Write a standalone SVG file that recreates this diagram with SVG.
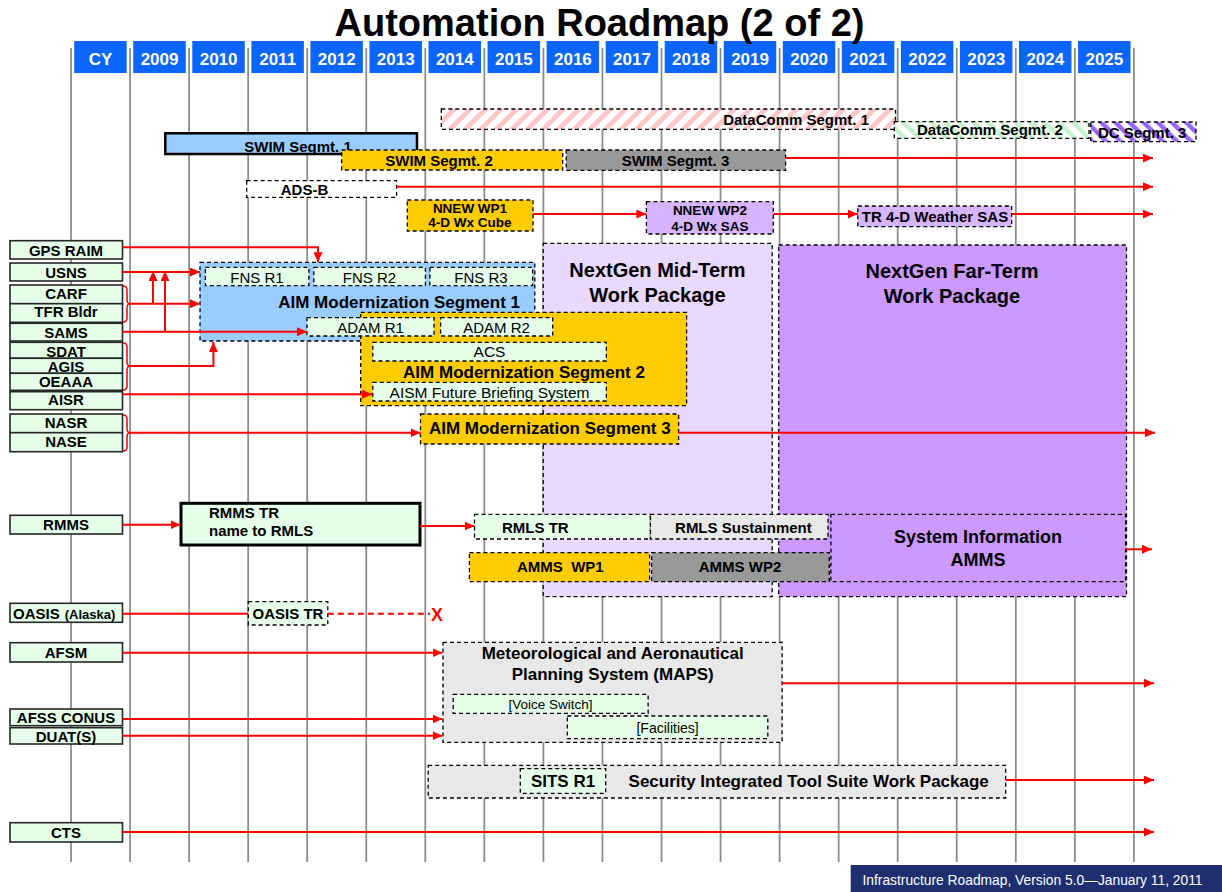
<svg xmlns="http://www.w3.org/2000/svg" width="1222" height="892" viewBox="0 0 1222 892">
<style>
text{font-family:"Liberation Sans",Arial,sans-serif;fill:#000}
.b{font-weight:bold}
.c{text-anchor:middle}
.e{text-anchor:end}
.yr{font-weight:bold;font-size:17px;fill:#fff;text-anchor:middle}
.hd{fill:#0A66FF}
.grid{stroke:#8c8c8c;stroke-width:1.8}
.lbl{fill:#E6FFE9;stroke:#262626;stroke-width:1.6}
.d{stroke:#000;stroke-width:1.3;stroke-dasharray:4 3}
.g{fill:#E6FFE9}
.bl{fill:#99CCFF}
.ye{fill:#FFCC00}
.gr{fill:#999999}
.lg{fill:#E8E8E8}
.pu{fill:#CC99FF}
.lp{fill:#D7B4FF}
.mt{fill:#EAD9FF}
.t15{font-size:15px}
.n15{font-size:15px}
.a{fill:none;stroke:#FF0000;stroke-width:2}
.br{fill:none;stroke:#FF0000;stroke-width:1.5}
</style>
<defs>
<marker id="ah" markerUnits="userSpaceOnUse" markerWidth="11" markerHeight="9" refX="10" refY="4.5" orient="auto">
<path d="M0,0 L10,4.5 L0,9 z" fill="#FF0000"/>
</marker>
<pattern id="hpink" patternUnits="userSpaceOnUse" width="11" height="11" patternTransform="rotate(45)">
<rect width="11" height="11" fill="#fff"/><rect width="5" height="11" fill="#FFC8C8"/>
</pattern>
<pattern id="hgreen" patternUnits="userSpaceOnUse" width="10" height="10" patternTransform="rotate(-45)">
<rect width="10" height="10" fill="#fff"/><rect width="4.5" height="10" fill="#C6F2CC"/>
</pattern>
<pattern id="hpurple" patternUnits="userSpaceOnUse" width="10" height="10" patternTransform="rotate(-45)">
<rect width="10" height="10" fill="#fff"/><rect width="4.5" height="10" fill="#9966FF"/>
</pattern>
</defs>
<rect width="1222" height="892" fill="#fff"/>

<g id="grid">
<line class="grid" x1="71" y1="48" x2="71" y2="862"/>
<line class="grid" x1="130.05" y1="48" x2="130.05" y2="862"/>
<line class="grid" x1="189.1" y1="48" x2="189.1" y2="862"/>
<line class="grid" x1="248.15" y1="48" x2="248.15" y2="862"/>
<line class="grid" x1="307.2" y1="48" x2="307.2" y2="862"/>
<line class="grid" x1="366.25" y1="48" x2="366.25" y2="862"/>
<line class="grid" x1="425.3" y1="48" x2="425.3" y2="862"/>
<line class="grid" x1="484.35" y1="48" x2="484.35" y2="862"/>
<line class="grid" x1="543.4" y1="48" x2="543.4" y2="862"/>
<line class="grid" x1="602.45" y1="48" x2="602.45" y2="862"/>
<line class="grid" x1="661.5" y1="48" x2="661.5" y2="862"/>
<line class="grid" x1="720.55" y1="48" x2="720.55" y2="862"/>
<line class="grid" x1="779.6" y1="48" x2="779.6" y2="862"/>
<line class="grid" x1="838.65" y1="48" x2="838.65" y2="862"/>
<line class="grid" x1="897.7" y1="48" x2="897.7" y2="862"/>
<line class="grid" x1="956.75" y1="48" x2="956.75" y2="862"/>
<line class="grid" x1="1015.8" y1="48" x2="1015.8" y2="862"/>
<line class="grid" x1="1074.85" y1="48" x2="1074.85" y2="862"/>
<line class="grid" x1="1133.9" y1="48" x2="1133.9" y2="862"/>
</g>

<g id="header">
<rect class="hd" x="74.2" y="41" width="52.5" height="32"/><text class="yr" x="100.5" y="64.5">CY</text>
<rect class="hd" x="133.25" y="41" width="52.5" height="32"/><text class="yr" x="159.55" y="64.5">2009</text>
<rect class="hd" x="192.3" y="41" width="52.5" height="32"/><text class="yr" x="218.6" y="64.5">2010</text>
<rect class="hd" x="251.35" y="41" width="52.5" height="32"/><text class="yr" x="277.65" y="64.5">2011</text>
<rect class="hd" x="310.4" y="41" width="52.5" height="32"/><text class="yr" x="336.7" y="64.5">2012</text>
<rect class="hd" x="369.45" y="41" width="52.5" height="32"/><text class="yr" x="395.75" y="64.5">2013</text>
<rect class="hd" x="428.5" y="41" width="52.5" height="32"/><text class="yr" x="454.8" y="64.5">2014</text>
<rect class="hd" x="487.55" y="41" width="52.5" height="32"/><text class="yr" x="513.85" y="64.5">2015</text>
<rect class="hd" x="546.6" y="41" width="52.5" height="32"/><text class="yr" x="572.9" y="64.5">2016</text>
<rect class="hd" x="605.65" y="41" width="52.5" height="32"/><text class="yr" x="631.95" y="64.5">2017</text>
<rect class="hd" x="664.7" y="41" width="52.5" height="32"/><text class="yr" x="691" y="64.5">2018</text>
<rect class="hd" x="723.75" y="41" width="52.5" height="32"/><text class="yr" x="750.05" y="64.5">2019</text>
<rect class="hd" x="782.8" y="41" width="52.5" height="32"/><text class="yr" x="809.1" y="64.5">2020</text>
<rect class="hd" x="841.85" y="41" width="52.5" height="32"/><text class="yr" x="868.15" y="64.5">2021</text>
<rect class="hd" x="900.9" y="41" width="52.5" height="32"/><text class="yr" x="927.2" y="64.5">2022</text>
<rect class="hd" x="959.95" y="41" width="52.5" height="32"/><text class="yr" x="986.25" y="64.5">2023</text>
<rect class="hd" x="1019" y="41" width="52.5" height="32"/><text class="yr" x="1045.3" y="64.5">2024</text>
<rect class="hd" x="1078.05" y="41" width="52.5" height="32"/><text class="yr" x="1104.35" y="64.5">2025</text>
</g>

<text id="title" class="b c" x="599.5" y="36" font-size="38">Automation Roadmap (2 of 2)</text>

<g id="datacomm1"><rect class="d" x="441.3" y="109" width="454.2" height="20.3" fill="url(#hpink)"/><text class="b e t15" x="869" y="124.5">DataComm Segmt. 1</text></g>
<g id="datacomm2"><rect class="d" x="894.3" y="121.7" width="194.7" height="16.6" fill="url(#hgreen)"/><text class="b t15" x="917" y="135">DataComm Segmt. 2</text></g>
<g id="dc3"><rect class="d" x="1090.7" y="122" width="105.3" height="19.7" fill="url(#hpurple)"/><text class="b t15" x="1098" y="137.5">DC Segmt. 3</text></g>

<g id="swim1"><rect class="bl" x="165.3" y="133.3" width="251.7" height="20.7" stroke="#000" stroke-width="2.5"/><text class="b c t15" x="298" y="151.5">SWIM Segmt. 1</text></g>
<g id="swim2"><rect class="d ye" x="341.6" y="150" width="221.1" height="20"/><text class="b c t15" x="439" y="165.5">SWIM Segmt. 2</text></g>
<g id="swim3"><rect class="d gr" x="566.2" y="150" width="219.4" height="20.4"/><text class="b c t15" x="675.5" y="165.5">SWIM Segmt. 3</text></g>
<g id="adsb"><rect class="d" fill="#fff" x="246.7" y="180.7" width="149.9" height="16.6"/><text class="b c t15" x="304.5" y="194.5">ADS-B</text></g>
<g id="nnew1"><rect class="d ye" x="407.3" y="200" width="125.7" height="31"/><text class="b c" font-size="13.5" x="470" y="213">NNEW WP1</text><text class="b c" font-size="13.5" x="470" y="226.5">4-D Wx Cube</text></g>
<g id="nnew2"><rect class="d lp" x="646.4" y="201.7" width="126.9" height="32.3"/><text class="b c" font-size="13.5" x="710" y="215">NNEW WP2</text><text class="b c" font-size="13.5" x="710" y="230.5">4-D Wx SAS</text></g>
<g id="tr4d"><rect class="d lp" x="857.8" y="206" width="153.9" height="20.7"/><text class="b c t15" x="935" y="222">TR 4-D Weather SAS</text></g>

<g id="midterm"><rect class="d mt" x="543.2" y="243.3" width="229" height="353.4"/><text class="b c" font-size="20" x="657.5" y="276.5">NextGen Mid-Term</text><text class="b c" font-size="20" x="657.5" y="301.5">Work Package</text></g>
<g id="farterm"><rect class="d pu" x="778.7" y="245" width="347.8" height="351.7"/><text class="b c" font-size="20" x="952" y="278">NextGen Far-Term</text><text class="b c" font-size="20" x="952" y="303">Work Package</text></g>

<g id="aim1"><rect class="d bl" x="200" y="262.3" width="334.8" height="78.7"/><text class="b e" font-size="17" x="520" y="307.5">AIM Modernization Segment 1</text></g>
<g id="fnsr1"><rect class="d g" x="205.4" y="267.3" width="103.5" height="18.4"/><text class="c n15" x="257" y="282.5">FNS R1</text></g>
<g id="fnsr2"><rect class="d g" x="313.8" y="267.3" width="111.6" height="18.4"/><text class="c n15" x="369.5" y="282.5">FNS R2</text></g>
<g id="fnsr3"><rect class="d g" x="429.9" y="267.3" width="102.7" height="18.4"/><text class="c n15" x="481" y="282.5">FNS R3</text></g>
<g id="aim2"><rect class="d ye" x="360.7" y="312.3" width="325.9" height="93.4"/><text class="b c" font-size="17" x="524" y="377.5">AIM Modernization Segment 2</text></g>
<g id="adamr1"><rect class="d g" x="307" y="317.7" width="127" height="18.3"/><text class="c n15" x="370.5" y="332.5">ADAM R1</text></g>
<g id="adamr2"><rect class="d g" x="440.6" y="317.7" width="112.1" height="18.3"/><text class="c n15" x="496.5" y="332.5">ADAM R2</text></g>
<g id="acs"><rect class="d g" x="372.8" y="342.3" width="233.5" height="18.7"/><text class="c" font-size="15.5" x="489.5" y="357">ACS</text></g>
<g id="aism"><rect class="d g" x="372.8" y="382.3" width="233.5" height="18.7"/><text class="c" font-size="15.5" x="489.5" y="397.5">AISM Future Briefing System</text></g>
<g id="aim3"><rect class="d ye" x="420.5" y="414" width="258.1" height="30"/><text class="b c" font-size="17" x="549.8" y="434">AIM Modernization Segment 3</text></g>

<g id="rmmstr"><rect class="g" x="181" y="503.3" width="239" height="41.7" stroke="#000" stroke-width="3"/><text class="b t15" x="209" y="518">RMMS TR</text><text class="b t15" x="209" y="536">name to RMLS</text></g>
<g id="rmlstr"><rect class="d g" x="474.5" y="514.3" width="175.9" height="24.7"/><text class="b t15" x="502" y="532.5">RMLS TR</text></g>
<g id="rmlssus"><rect class="d lg" x="650.4" y="514.3" width="177.6" height="24.7"/><text class="b c t15" x="743.4" y="532.5">RMLS Sustainment</text></g>
<g id="sysinfo"><rect class="d pu" x="830.9" y="514.3" width="294.7" height="67.4"/><text class="b c" font-size="18" x="978" y="543.3">System Information</text><text class="b c" font-size="18" x="978" y="566">AMMS</text></g>
<g id="ammswp1"><rect class="d ye" x="469.4" y="552.7" width="180.2" height="29"/><text class="b t15" x="517" y="571.5" xml:space="preserve">AMMS  WP1</text></g>
<g id="ammswp2"><rect class="d gr" x="651.6" y="552.7" width="177.7" height="29"/><text class="b c t15" x="740" y="571.5">AMMS WP2</text></g>

<g id="oasistr"><rect class="d g" x="248.3" y="601.7" width="79.5" height="23.3"/><text class="b c t15" x="288" y="619">OASIS TR</text></g>
<g id="maps"><rect class="d lg" x="443" y="642.3" width="339.1" height="100"/><text class="b c" font-size="17" x="612.7" y="659.3">Meteorological and Aeronautical</text><text class="b c" font-size="17" x="612.7" y="680">Planning System (MAPS)</text></g>
<g id="voice"><rect class="d g" x="453.2" y="694.3" width="194.9" height="19"/><text class="c" font-size="13.5" x="550.4" y="709">[Voice Switch]</text></g>
<g id="facilities"><rect class="d g" x="567.3" y="716" width="200.5" height="22.7"/><text class="c" font-size="14" x="667.6" y="733.3">[Facilities]</text></g>
<g id="sits"><rect class="d lg" x="428.2" y="765.3" width="577.5" height="32.7"/><text class="b c" font-size="17" x="808.7" y="786.7">Security Integrated Tool Suite Work Package</text></g>
<g id="sitsr1"><rect class="d g" x="520.3" y="768.7" width="85.4" height="24.6"/><text class="b c" font-size="17" x="563" y="786.7">SITS R1</text></g>

<g id="gpsraim"><rect class="lbl" x="10" y="240.7" width="112.5" height="18.3"/><text class="b c t15" x="66" y="255.5">GPS RAIM</text></g>
<g id="usns"><rect class="lbl" x="10" y="263" width="112.5" height="18"/><text class="b c t15" x="66" y="278">USNS</text></g>
<g id="carf"><rect class="lbl" x="10" y="285" width="112.5" height="18.7"/><text class="b c t15" x="66" y="299.3">CARF</text></g>
<g id="tfrbldr"><rect class="lbl" x="10" y="303.7" width="112.5" height="18.6"/><text class="b c t15" x="66" y="317.3">TFR Bldr</text></g>
<g id="sams"><rect class="lbl" x="10" y="323.3" width="112.5" height="17.7"/><text class="b c t15" x="66" y="337.7">SAMS</text></g>
<g id="sdat"><rect class="lbl" x="10" y="342.3" width="112.5" height="16"/><text class="b c t15" x="66" y="356.7">SDAT</text></g>
<g id="agis"><rect class="lbl" x="10" y="358.3" width="112.5" height="15"/><text class="b c t15" x="66" y="371.7">AGIS</text></g>
<g id="oeaaa"><rect class="lbl" x="10" y="373.3" width="112.5" height="17"/><text class="b c t15" x="66" y="386.7">OEAAA</text></g>
<g id="aisr"><rect class="lbl" x="10" y="391.7" width="112.5" height="18"/><text class="b c t15" x="66" y="405">AISR</text></g>
<g id="nasr"><rect class="lbl" x="10" y="414" width="112.5" height="18.7"/><text class="b c t15" x="66" y="428.3">NASR</text></g>
<g id="nase"><rect class="lbl" x="10" y="432.7" width="112.5" height="19"/><text class="b c t15" x="66" y="447.3">NASE</text></g>
<g id="rmms"><rect class="lbl" x="10" y="515.3" width="112.5" height="18.7"/><text class="b c t15" x="66" y="530">RMMS</text></g>
<g id="oasis"><rect class="lbl" x="10" y="603.3" width="112.5" height="19"/><text class="b t15" x="13" y="619">OASIS<tspan font-size="13" dx="5">(Alaska)</tspan></text></g>
<g id="afsm"><rect class="lbl" x="10" y="642.7" width="112.5" height="19.3"/><text class="b c t15" x="66" y="658.3">AFSM</text></g>
<g id="afssconus"><rect class="lbl" x="10" y="709" width="112.5" height="16.7"/><text class="b c t15" x="66" y="723">AFSS CONUS</text></g>
<g id="duats"><rect class="lbl" x="10" y="727.7" width="112.5" height="16.3"/><text class="b c t15" x="66" y="741.5">DUAT(S)</text></g>
<g id="cts"><rect class="lbl" x="10" y="822.7" width="112.5" height="19.3"/><text class="b c t15" x="66" y="838.3">CTS</text></g>

<g id="connectors">
<path class="a" d="M785.6,158 H1153" marker-end="url(#ah)"/>
<path class="a" d="M396.6,186.7 H1153" marker-end="url(#ah)"/>
<path class="a" d="M533,214 H646.4" marker-end="url(#ah)"/>
<path class="a" d="M773.3,214 H857.8" marker-end="url(#ah)"/>
<path class="a" d="M1011.7,214 H1153" marker-end="url(#ah)"/>
<path class="a" d="M122.5,247.3 H318 V262.3" marker-end="url(#ah)"/>
<path class="a" d="M122.5,272 H200" marker-end="url(#ah)"/>
<path class="br" d="M123,286 Q127,286 127,290 V299.7 Q127,303.7 130.5,303.7 Q127,303.7 127,307.7 V318 Q127,322 123,322"/>
<path class="a" d="M130.5,303.7 H200" marker-end="url(#ah)"/>
<path class="a" d="M153,303.7 V271" marker-end="url(#ah)"/>
<path class="a" d="M165,331.7 V271" marker-end="url(#ah)"/>
<path class="a" d="M122.5,331.7 H307" marker-end="url(#ah)"/>
<path class="br" d="M123,343 Q127,343 127,347 V362 Q127,366 130.5,366 Q127,366 127,370 V386 Q127,390 123,390"/>
<path class="a" d="M130.5,366 H213.4 V342" marker-end="url(#ah)"/>
<path class="a" d="M122.5,394.3 H372" marker-end="url(#ah)"/>
<path class="br" d="M123,415 Q127,415 127,419 V428.7 Q127,432.7 130.5,432.7 Q127,432.7 127,436.7 V447 Q127,451 123,451"/>
<path class="a" d="M130.5,432.7 H420.5" marker-end="url(#ah)"/>
<path class="a" d="M678.6,432.7 H1155" marker-end="url(#ah)"/>
<path class="a" d="M122.5,524.7 H180.5" marker-end="url(#ah)"/>
<path class="a" d="M420,526 H474.5" marker-end="url(#ah)"/>
<path class="a" d="M1125.6,549.3 H1152" marker-end="url(#ah)"/>
<path class="a" d="M122.5,613.7 H248.3"/>
<path class="a" d="M327.8,613.7 H430" stroke-dasharray="6 4"/>
<text class="b c" x="437" y="621" font-size="18" style="fill:#FF0000">X</text>
<path class="a" d="M122.5,652.7 H442.5" marker-end="url(#ah)"/>
<path class="a" d="M782.1,683.3 H1154" marker-end="url(#ah)"/>
<path class="a" d="M122.5,719 H442.5" marker-end="url(#ah)"/>
<path class="a" d="M122.5,735.7 H442.5" marker-end="url(#ah)"/>
<path class="a" d="M1005.7,780 H1154" marker-end="url(#ah)"/>
<path class="a" d="M122.5,832 H1154" marker-end="url(#ah)"/>
</g>

<g id="footer"><rect x="850.7" y="865" width="371.3" height="27" fill="#1F2E6E"/><text x="862.5" y="884.5" font-size="13.8" style="fill:#fff">Infrastructure Roadmap, Version 5.0—January 11, 2011</text></g>
</svg>
